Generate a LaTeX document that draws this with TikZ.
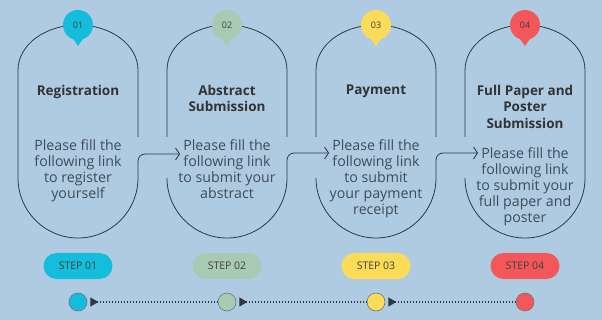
\documentclass[tikz,border=0pt]{standalone}
\usepackage{fontspec}
\setmainfont{Open Sans}
\usetikzlibrary{arrows.meta,positioning,calc}
\definecolor{bgblue}{HTML}{AFCBE2}
\definecolor{inkgrey}{HTML}{2E3842}
\definecolor{txtgrey}{HTML}{3F4C58}
\definecolor{stepcyan}{HTML}{14BDDC}
\definecolor{stepgreen}{HTML}{A8C9B2}
\definecolor{stepyellow}{HTML}{FBDC58}
\definecolor{stepred}{HTML}{F3575A}

\begin{document}
\begin{tikzpicture}[
  x=1pt, y=1pt,
  outline/.style={draw=inkgrey, line width=0.8pt},
  flow/.style={outline, rounded corners=7pt, -{Straight Barb[length=4pt, width=12pt]}},
  pinhead/.style={circle, minimum size=30pt, inner sep=0pt, font=\fontsize{9}{9}\selectfont, text=black!75},
  title/.style={anchor=north, inner sep=0pt, font=\bfseries\fontsize{13.5}{16.5}\selectfont, text=black!80, align=center},
  body/.style={anchor=north, inner sep=0pt, font=\fontsize{14.2}{16}\selectfont, text=txtgrey, align=center},
  pill/.style={rounded corners=13pt, minimum width=69pt, minimum height=26pt, inner sep=0pt,
               font=\fontsize{10.5}{10}\selectfont, text=black!75},
  dot/.style={circle, draw=inkgrey!70, line width=0.6pt, minimum size=18pt, inner sep=0pt},
  track/.style={inkgrey, line width=1.3pt, dash pattern=on 1.3pt off 1.7pt,
                {Triangle[reversed, length=8pt, width=9pt]}-},
]
  \fill[bgblue] (0,0) rectangle (602,-320);
  \useasboundingbox (0,0) rectangle (602,-320);

  %% Arches (upper halves)
  \foreach \cx in {78,227,376,525}
    \draw[outline] (\cx-60,-137) -- (\cx-60,-70)
      arc[start angle=180, end angle=0, x radius=60, y radius=45] -- (\cx+60,-137);

  %% Pins on top of the arches
  \foreach \cx/\col/\num in {78/stepcyan/01, 227/stepgreen/02, 376/stepyellow/03, 525/stepred/04} {
    \fill[\col] (\cx-9,-33) -- (\cx,-46) -- (\cx+9,-33) -- cycle;
    \node[pinhead, fill=\col] (pin\num) at (\cx,-25) {\num};
  }

  %% Titles
  \node[title] (head1) at (78,-85)  {Registration};
  \node[title] (head2) at (227,-85) {Abstract\\Submission};
  \node[title] (head3) at (376,-85) {Payment};
  \node[title] (head4) at (525,-85) {Full Paper and\\Poster\\Submission};

  %% Body texts
  \node[body] (body1) at (78,-139)  {Please fill the\\following link\\to register\\yourself};
  \node[body] (body2) at (227,-139) {Please fill the\\following link\\to submit your\\abstract};
  \node[body] (body3) at (376,-139) {Please fill the\\following link\\to submit\\your payment\\receipt};
  \node[body] (body4) at (525,-147) {Please fill the\\following link\\to submit your\\full paper and\\poster};

  %% Entry points of the flow arrows
  \coordinate (in2) at (180,-154);
  \coordinate (in3) at (329,-153);
  \coordinate (in4) at (478,-153);

  %% Lower halves, each one running into the next step
  \draw[outline] (18,-137) -- (18,-178)
    arc[start angle=180, end angle=360, x radius=60, y radius=60];
  \draw[flow] (138,-178) -- (138,-154) -- (in2);
  \draw[outline] (167,-178)
    arc[start angle=180, end angle=360, x radius=60, y radius=60];
  \draw[flow] (287,-178) -- (287,-153) -- (in3);
  \draw[outline] (316,-178)
    arc[start angle=180, end angle=360, x radius=60, y radius=60];
  \draw[flow] (436,-178) -- (436,-153) -- (in4);
  \draw[outline] (465,-178)
    arc[start angle=180, end angle=360, x radius=60, y radius=60] -- (585,-137);

  %% Step pills
  \node[pill, fill=stepcyan]   (step1) at (78,-266)  {STEP 01};
  \node[pill, fill=stepgreen]  (step2) at (227,-266) {STEP 02};
  \node[pill, fill=stepyellow] (step3) at (376,-266) {STEP 03};
  \node[pill, fill=stepred]    (step4) at (525,-266) {STEP 04};

  %% Timeline
  \node[dot, fill=stepcyan]   (dot1) at (78,-302)  {};
  \node[dot, fill=stepgreen]  (dot2) at (227,-302) {};
  \node[dot, fill=stepyellow] (dot3) at (376,-302) {};
  \node[dot, fill=stepred]    (dot4) at (525,-302) {};
  \draw[track] ([xshift=3pt]dot1.east) -- (dot2.west);
  \draw[track] ([xshift=3pt]dot2.east) -- (dot3.west);
  \draw[track] ([xshift=3pt]dot3.east) -- (dot4.west);
\end{tikzpicture}
\end{document}
